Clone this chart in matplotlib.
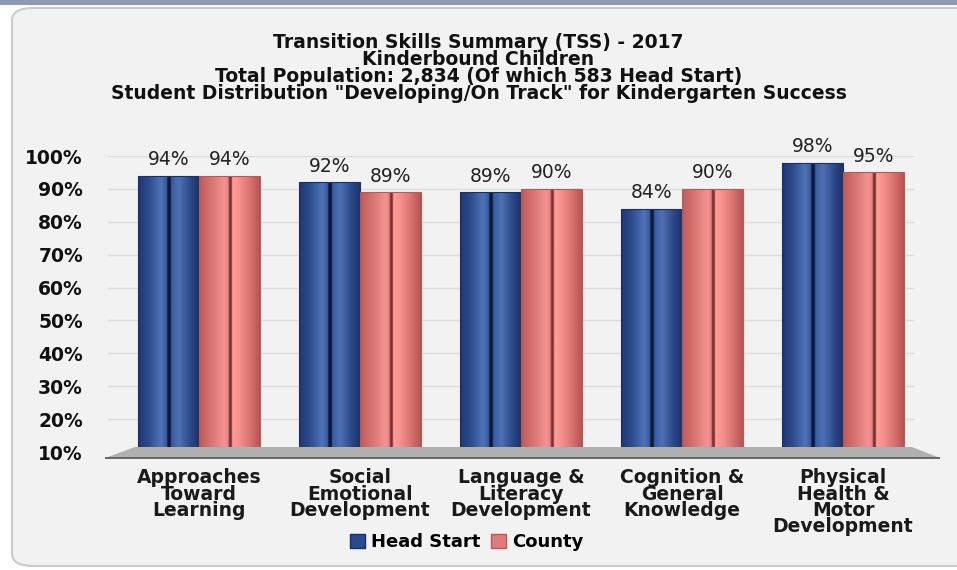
import numpy as np
import matplotlib
matplotlib.use("Agg")
import matplotlib.pyplot as plt
from matplotlib.patches import FancyBboxPatch, Polygon, Rectangle, Patch
from matplotlib.colors import LinearSegmentedColormap

plt.rcParams["font.family"] = ["DejaVu Sans"]

# ---- data ----
categories = ["Approaches\nToward\nLearning", "Social\nEmotional\nDevelopment",
              "Language &\nLiteracy\nDevelopment", "Cognition &\nGeneral\nKnowledge",
              "Physical\nHealth &\nMotor\nDevelopment"]
head_start = [94, 92, 89, 84, 98]
county = [94, 89, 90, 90, 95]
series_names = ["Head Start", "County"]
yticks = [10, 20, 30, 40, 50, 60, 70, 80, 90, 100]
title_lines = ["Transition Skills Summary (TSS) - 2017",
               "Kinderbound Children",
               "Total Population: 2,834 (Of which 583 Head Start)",
               "Student Distribution \"Developing/On Track\" for Kindergarten Success"]

W, H = 957, 570
fig = plt.figure(figsize=(W / 100, H / 100), dpi=100)
fig.patch.set_facecolor("white")

def fx(px):
    return px / W

def fy(py):
    return 1 - py / H

# top strip of page
fig.add_artist(Rectangle((0, fy(5)), 1, 5 / H, transform=fig.transFigure,
                         facecolor="#8d99b6", edgecolor="none", zorder=0))
# rounded panel
panel = FancyBboxPatch((fx(12), fy(566)), fx(990) - fx(12), (566 - 8) / H,
                       boxstyle="round,pad=0,rounding_size=0.022",
                       transform=fig.transFigure, facecolor="#f2f2f2",
                       edgecolor="#cacaca", linewidth=1.5, zorder=0)
fig.add_artist(panel)

# axes: x from 108 to 925 px, y 10% at 452 px, 100% at 156 px
ax = fig.add_axes([fx(108), fy(452), fx(915) - fx(108), (452 - 156) / H])
ax.set_facecolor("none")
x = np.arange(len(categories))
spacing = 161.0
for s in ax.spines.values():
    s.set_visible(False)

ax.set_yticks(yticks)
ax.set_yticklabels([f"{v}%" for v in yticks], fontsize=13.5, fontweight="heavy",
                   color="#111111")
ax.tick_params(axis="y", length=0, pad=18)
ax.set_xticks([])
ax.yaxis.grid(True, color="#dcdcdc", linewidth=1.0)
ax.set_axisbelow(True)

# floor
floor = Polygon([(fx(105), fy(458)), (fx(940), fy(458)), (fx(912), fy(447)), (fx(135), fy(447))],
                closed=True, transform=fig.transFigure, facecolor="#b0b0b0",
                edgecolor="none", zorder=1)
fig.add_artist(floor)
fig.add_artist(Rectangle((fx(105), fy(459)), fx(940) - fx(105), 2 / H,
                         transform=fig.transFigure, facecolor="#6a6a6a",
                         edgecolor="none", zorder=1))

bw = 61 / spacing

def grad(stops):
    return LinearSegmentedColormap.from_list("g", stops)

blue_cmap = grad([(0.0, "#1f3672"), (0.18, "#2e4c8e"), (0.38, "#5073b8"),
                  (0.47, "#3a5a9e"), (0.49, "#0c1a3c"), (0.53, "#0c1a3c"),
                  (0.55, "#3a5ca2"), (0.68, "#4e70b4"), (0.85, "#2e4a8c"),
                  (1.0, "#1d3268")])
red_cmap = grad([(0.0, "#c05a5a"), (0.2, "#d87472"), (0.42, "#f49490"),
                 (0.48, "#e48480"), (0.5, "#7e3030"), (0.53, "#7e3030"),
                 (0.55, "#ff9e9a"), (0.68, "#f48e8a"), (0.88, "#d06a68"),
                 (1.0, "#b55452")])

gradient = np.linspace(0, 1, 256).reshape(1, -1)

def draw_series(xpos, vals, cmap, edge):
    bars = ax.bar(xpos, np.array(vals) - 10, bw, bottom=10, color="none",
                  edgecolor=edge, linewidth=0.8, zorder=3)
    for rect in bars:
        x0, y0 = rect.get_x(), rect.get_y()
        w, h = rect.get_width(), rect.get_height()
        im = ax.imshow(gradient, cmap=cmap, aspect="auto",
                       extent=(x0, x0 + w, y0, y0 + h), zorder=2,
                       interpolation="bilinear")
        im.set_clip_path(rect)
    return bars

draw_series(x - bw / 2, head_start, blue_cmap, "#1a2f62")
draw_series(x + bw / 2, county, red_cmap, "#b45a58")
ax.set_xlim((108 - 199) / spacing, (915 - 199) / spacing)
ax.set_ylim(10, 100)

for xi, v in zip(x - bw / 2, head_start):
    ax.text(xi, v + 2.0, f"{v}%", ha="center", va="bottom", fontsize=13.5,
            color="#222222", zorder=4)
for xi, v in zip(x + bw / 2, county):
    ax.text(xi, v + 2.0, f"{v}%", ha="center", va="bottom", fontsize=13.5,
            color="#222222", zorder=4)

# category labels
for xi, lab in zip(x, categories):
    ax.text(xi, -0.055, lab, transform=ax.get_xaxis_transform(), ha="center",
            va="top", fontsize=13.5, fontweight="bold", color="#1a1a1a",
            linespacing=0.82)

# title
fig.text(0.5, fy(33), "\n".join(title_lines), ha="center", va="top",
         fontsize=13.5, fontweight="bold", color="#111111", linespacing=0.86)

# legend
handles = [Patch(facecolor="#2a4a8e", edgecolor="#1a2f62"),
           Patch(facecolor="#e07c78", edgecolor="#b45a58")]
fig.legend(handles, series_names, loc="center", bbox_to_anchor=(fx(467), fy(542)),
           ncol=2, frameon=False, prop={"size": 13, "weight": "heavy"},
           handlelength=0.8, handleheight=0.8, handletextpad=0.35,
           columnspacing=0.6, borderpad=0)

fig.savefig("out.png", dpi=100, facecolor=fig.get_facecolor())
